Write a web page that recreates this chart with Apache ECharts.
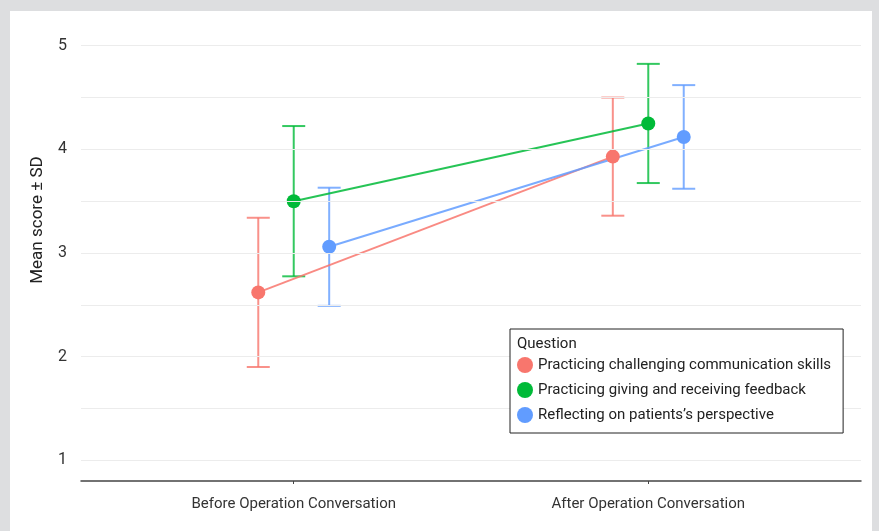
<!DOCTYPE html>
<html>
<head>
<meta charset="utf-8">
<script src="https://cdn.jsdelivr.net/npm/echarts@6/dist/echarts.min.js"></script>
<style>
  html, body { margin: 0; padding: 0; background: #dddee0; }
  #panel { position: absolute; left: 10px; top: 11px; width: 862px; height: 520px; background: #fff; }
  #chart { position: absolute; left: 0; top: 0; width: 879px; height: 531px; }
</style>
</head>
<body>
<div id="panel"></div>
<div id="chart"></div>
<script>
// x categories and legend entries
var categories = ['Before Operation Conversation', 'After Operation Conversation'];
var questions = [
  'Practicing challenging communication skills',
  'Practicing giving and receiving feedback',
  'Reflecting on patients\u2019s perspective'
];
var colors = ['#F8766D', '#00BA38', '#619CFF'];

// mean and SD per question (before, after)
var meanChallenging = [2.62, 3.93];
var sdChallenging = [0.72, 0.57];
var meanFeedback = [3.50, 4.25];
var sdFeedback = [0.725, 0.575];
var meanPerspective = [3.06, 4.12];
var sdPerspective = [0.57, 0.50];

var yTicks = [1, 2, 3, 4, 5];
var gridValues = [1, 1.5, 2, 2.5, 3, 3.5, 4, 4.5, 5];

var means = [meanChallenging, meanFeedback, meanPerspective];
var sds = [sdChallenging, sdFeedback, sdPerspective];
var dodge = [-0.1, 0, 0.1]; // position dodge, in category units

var font = 'Roboto, "Noto Sans", sans-serif';
var chart = echarts.init(document.getElementById('chart'));

var series = [];
// grid lines
series.push({
  type: 'line', data: [], z: 0, silent: true,
  markLine: {
    silent: true, symbol: ['none', 'none'], label: { show: false },
    lineStyle: { color: '#ececec', width: 1, type: 'solid' },
    emphasis: { disabled: true },
    data: gridValues.map(function (v) { return { yAxis: v }; })
  }
});
// error bars
questions.forEach(function (q, i) {
  var d = [];
  for (var k = 0; k < categories.length; k++) {
    d.push([k + 1 + dodge[i], means[i][k] - sds[i][k], means[i][k] + sds[i][k]]);
  }
  series.push({
    type: 'custom', z: 2, silent: true,
    data: d,
    encode: { x: 0, y: [1, 2] },
    renderItem: function (params, api) {
      var x = api.value(0);
      var lo = api.coord([x, api.value(1)]);
      var hi = api.coord([x, api.value(2)]);
      var hw = 11.5;
      var st = { stroke: colors[i], lineWidth: 2, opacity: 0.8 };
      return {
        type: 'group',
        children: [
          { type: 'line', shape: { x1: hi[0], y1: hi[1], x2: lo[0], y2: lo[1] }, style: st },
          { type: 'line', shape: { x1: hi[0] - hw, y1: hi[1], x2: hi[0] + hw, y2: hi[1] }, style: st },
          { type: 'line', shape: { x1: lo[0] - hw, y1: lo[1], x2: lo[0] + hw, y2: lo[1] }, style: st }
        ]
      };
    }
  });
});
// mean points and connecting lines
questions.forEach(function (q, i) {
  var d = [];
  for (var k = 0; k < categories.length; k++) {
    d.push([k + 1 + dodge[i], means[i][k]]);
  }
  series.push({
    name: q, type: 'line', z: 3,
    data: d,
    symbol: 'circle', symbolSize: 14,
    itemStyle: { color: colors[i] },
    lineStyle: { color: colors[i], width: 2, opacity: 0.85 },
    emphasis: { disabled: true }
  });
});

chart.setOption({
  animation: false,
  textStyle: { fontFamily: font },
  grid: { left: 81, right: 18, top: 25, bottom: 50 },
  title: {
    text: 'Question', left: 512, top: 332, z: 12,
    textStyle: { fontFamily: font, fontSize: 15, fontWeight: 'normal', color: '#222' }
  },
  // y axis title sits a bit above the plot centre in the original
  graphic: [{
    type: 'text', x: 38, y: 220, rotation: Math.PI / 2,
    style: {
      text: 'Mean score \u00b1 SD', fontFamily: font, fontSize: 17, fill: '#222',
      align: 'center', verticalAlign: 'middle'
    }
  }],
  legend: {
    orient: 'vertical', left: 510, top: 329, z: 10,
    data: questions,
    icon: 'circle', itemWidth: 16, itemHeight: 16, itemGap: 9,
    padding: [28, 12, 10, 7],
    borderColor: '#222', borderWidth: 1, backgroundColor: '#fff',
    selectedMode: false,
    textStyle: { fontFamily: font, fontSize: 15, color: '#222' }
  },
  xAxis: {
    type: 'value', min: 0.4, max: 2.6,
    splitLine: { show: false },
    axisLine: { show: true, onZero: false, lineStyle: { color: '#444', width: 1.5 } },
    axisTick: { show: true, customValues: [1, 2], length: 3, lineStyle: { color: '#444' } },
    axisLabel: {
      customValues: [1, 2], margin: 16, fontSize: 15, color: '#333', fontFamily: font,
      formatter: function (v) { return categories[Math.round(v) - 1]; }
    }
  },
  yAxis: {
    type: 'value', min: 0.8, max: 5.2,
    splitLine: { show: false },
    axisLine: { show: false },
    axisTick: { show: false },
    axisLabel: { customValues: yTicks, margin: 14, fontSize: 16, color: '#333', fontFamily: font }
  },
  series: series
});
</script>
</body>
</html>
